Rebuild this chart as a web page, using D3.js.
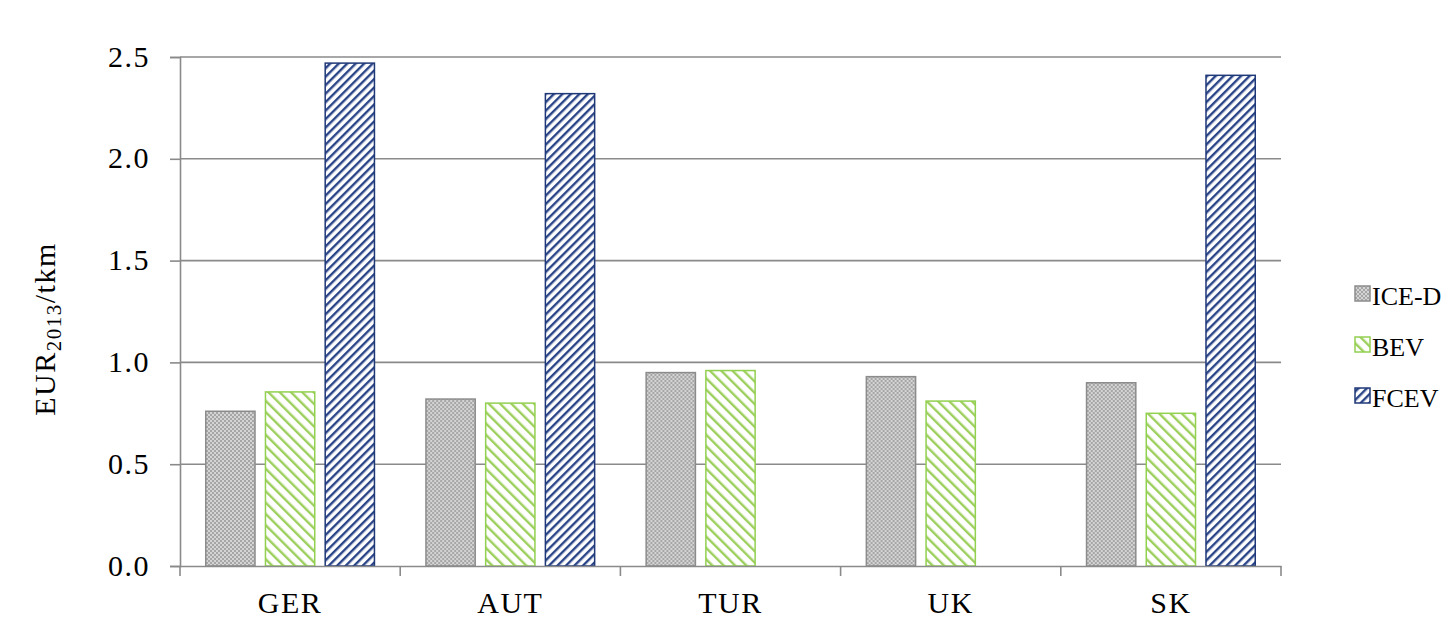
<!DOCTYPE html>
<html>
<head>
<meta charset="utf-8">
<script src="https://cdn.jsdelivr.net/npm/d3@7"></script>
<style>
  body { margin: 0; background: #fff; }
  text { font-family: "Liberation Serif", "DejaVu Serif", serif; fill: #000; }
</style>
</head>
<body>
<div id="chart"></div>
<script>
// Chart data
const countries = ["GER", "AUT", "TUR", "UK", "SK"];
const seriesNames = ["ICE-D", "BEV", "FCEV"];
const iceD = [0.76, 0.82, 0.95, 0.93, 0.90];
const bev = [0.855, 0.80, 0.96, 0.81, 0.75];
const fcev = [2.47, 2.32, null, null, 2.41];
const yTicks = [0, 0.5, 1.0, 1.5, 2.0, 2.5];

const width = 1443, height = 618;
const margin = { left: 180, right: 162, top: 57, bottom: 52 };

const svg = d3.select("#chart").append("svg")
  .attr("width", width)
  .attr("height", height);

// Patterns for the bars
const defs = svg.append("defs");

const pIce = defs.append("pattern")
  .attr("id", "pat-ice")
  .attr("patternUnits", "userSpaceOnUse")
  .attr("width", 4).attr("height", 4);
pIce.append("rect").attr("width", 4).attr("height", 4).attr("fill", "#d4d4d4");
pIce.append("rect").attr("x", 0).attr("y", 0).attr("width", 2).attr("height", 2).attr("fill", "#a6a6a6");
pIce.append("rect").attr("x", 2).attr("y", 2).attr("width", 2).attr("height", 2).attr("fill", "#a6a6a6");

// BEV: lines running top-left to bottom-right
const pBev = defs.append("pattern")
  .attr("id", "pat-bev")
  .attr("patternUnits", "userSpaceOnUse")
  .attr("width", 8).attr("height", 8)
  .attr("patternTransform", "rotate(-45)");
pBev.append("rect").attr("width", 8).attr("height", 8).attr("fill", "#fff");
pBev.append("rect").attr("x", 0).attr("width", 2.4).attr("height", 8).attr("fill", "#9ccf5c");

// FCEV: lines running bottom-left to top-right
const pFcev = defs.append("pattern")
  .attr("id", "pat-fcev")
  .attr("patternUnits", "userSpaceOnUse")
  .attr("width", 6).attr("height", 6)
  .attr("patternTransform", "rotate(45)");
pFcev.append("rect").attr("width", 6).attr("height", 6).attr("fill", "#fff");
pFcev.append("rect").attr("x", 0).attr("width", 2.4).attr("height", 6).attr("fill", "#2a4488");

const seriesStyle = [
  { fill: "url(#pat-ice)", stroke: "#8c8c8c" },
  { fill: "url(#pat-bev)", stroke: "#92d050" },
  { fill: "url(#pat-fcev)", stroke: "#1f3878" }
];

// Scales
const x = d3.scaleBand()
  .domain(countries)
  .range([margin.left, width - margin.right])
  .paddingInner(0)
  .paddingOuter(0);

const xSub = d3.scaleBand()
  .domain(seriesNames)
  .range([25, x.bandwidth() - 25])
  .paddingInner(0.15);

const y = d3.scaleLinear()
  .domain([0, 2.5])
  .range([height - margin.bottom, margin.top]);

// Gridlines
svg.append("g")
  .selectAll("line")
  .data(yTicks.slice(1))
  .join("line")
  .attr("x1", margin.left)
  .attr("x2", width - margin.right)
  .attr("y1", d => y(d))
  .attr("y2", d => y(d))
  .attr("stroke", "#8a8a8a")
  .attr("stroke-width", 1.6);

// Bars
const data = [iceD, bev, fcev];
const groups = svg.append("g")
  .selectAll("g")
  .data(countries)
  .join("g")
  .attr("transform", d => `translate(${x(d)},0)`);

groups.selectAll("rect")
  .data((c, i) => seriesNames.map((s, j) => ({ s, j, v: data[j][i] })).filter(d => d.v != null))
  .join("rect")
  .attr("x", d => xSub(d.s) + 0.75)
  .attr("width", xSub.bandwidth() - 1.5)
  .attr("y", d => y(d.v))
  .attr("height", d => y(0) - y(d.v))
  .attr("fill", d => seriesStyle[d.j].fill)
  .attr("stroke", d => seriesStyle[d.j].stroke)
  .attr("stroke-width", 1.5);

// Y axis
const yAxis = svg.append("g")
  .attr("transform", `translate(${margin.left},0)`)
  .call(d3.axisLeft(y).tickValues(yTicks).tickFormat(d3.format(".1f")).tickSize(10).tickPadding(20));
yAxis.select(".domain").attr("stroke", "#8a8a8a").attr("stroke-width", 1.6);
yAxis.selectAll(".tick line").attr("stroke", "#8a8a8a").attr("stroke-width", 1.6);
yAxis.selectAll("text").attr("font-size", 30).attr("dy", "0.3em")
  .attr("letter-spacing", 1.5).style("font-family", "Liberation Serif, serif");

// X axis
const xAxis = svg.append("g")
  .attr("transform", `translate(0,${y(0)})`)
  .call(d3.axisBottom(x).tickSize(0).tickPadding(26));
xAxis.select(".domain").attr("stroke", "#8a8a8a").attr("stroke-width", 1.6);
xAxis.selectAll("text").attr("font-size", 30).attr("letter-spacing", 1.5)
  .style("font-family", "Liberation Serif, serif");

// Tick marks between categories
svg.append("g")
  .selectAll("line")
  .data(d3.range(countries.length + 1))
  .join("line")
  .attr("x1", i => margin.left + i * x.step())
  .attr("x2", i => margin.left + i * x.step())
  .attr("y1", y(0))
  .attr("y2", y(0) + 10)
  .attr("stroke", "#8a8a8a")
  .attr("stroke-width", 1.6);

// Y axis title
const yTitle = svg.append("text")
  .attr("transform", "translate(55,329) rotate(-90)")
  .attr("text-anchor", "middle")
  .attr("letter-spacing", 1.5)
  .attr("font-size", 30);
yTitle.append("tspan").text("EUR");
yTitle.append("tspan").attr("font-size", 21).attr("dy", 6).text("2013");
yTitle.append("tspan").attr("dy", -6).text("/tkm");

// Legend
const legend = svg.append("g")
  .selectAll("g")
  .data(seriesNames)
  .join("g")
  .attr("transform", (d, i) => `translate(1355,${305 + i * 51})`);

legend.append("rect")
  .attr("x", 0).attr("y", -19)
  .attr("width", 15).attr("height", 15)
  .attr("fill", (d, i) => seriesStyle[i].fill)
  .attr("stroke", (d, i) => seriesStyle[i].stroke)
  .attr("stroke-width", 1.5);

legend.append("text")
  .attr("x", 17)
  .attr("y", 0)
  .attr("font-size", 26)
  .text(d => d);
</script>
</body>
</html>
